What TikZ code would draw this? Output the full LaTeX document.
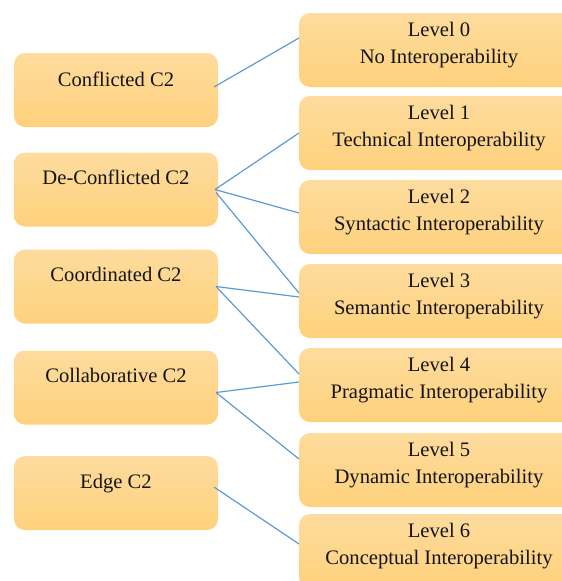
\documentclass[tikz,border=0pt]{standalone}
\usepackage{fontspec}
\setmainfont{Liberation Serif}
\definecolor{boxtop}{RGB}{254,220,158}
\definecolor{boxbot}{RGB}{254,209,124}
\definecolor{linkblue}{RGB}{91,155,213}
\definecolor{txt}{RGB}{20,20,20}
\tikzset{
  cbox/.style={draw=none, rounded corners=11pt, top color=boxtop, bottom color=boxbot,
    minimum width=204pt, minimum height=74pt, inner sep=0pt, outer sep=0pt},
  lbox/.style={draw=none, rounded corners=11pt, top color=boxtop, bottom color=boxbot,
    minimum width=280pt, minimum height=74pt, inner sep=0pt, outer sep=0pt},
  lbl/.style={font=\fontsize{20.6pt}{27pt}\selectfont, text=txt, align=center, anchor=base, inner sep=0pt},
  link/.style={draw=linkblue, line width=1.2pt}
}
\begin{document}
\begin{tikzpicture}[x=1pt,y=-1pt]
\useasboundingbox (0,0) rectangle (562,581);
\clip (0,0) rectangle (562,581);
% left boxes
\node[cbox] (c1) at (116,90) {};
\node[cbox] (c2) at (116,189.5) {};
\node[cbox] (c3) at (116,286.5) {};
\node[cbox] (c4) at (116,387.5) {};
\node[cbox] (c5) at (116,493) {};
\node[lbl] (t1) at ([yshift=-33pt]c1.north) {Conflicted C2};
\node[lbl] (t2) at ([yshift=-32pt]c2.north) {De-Conflicted C2};
\node[lbl] (t3) at ([yshift=-32pt]c3.north) {Coordinated C2};
\node[lbl] (t4) at ([yshift=-32pt]c4.north) {Collaborative C2};
\node[lbl] (t5) at ([yshift=-32pt]c5.north) {Edge C2};
% right boxes
\node[lbox] (l0) at (439,50) {};
\node[lbox] (l1) at (439,133) {};
\node[lbox] (l2) at (439,217) {};
\node[lbox] (l3) at (439,301) {};
\node[lbox] (l4) at (439,385) {};
\node[lbox] (l5) at (439,470) {};
\node[lbox] (l6) at (439,551) {};
\node[lbl] (s0) at ([yshift=-50pt]l0.north) {Level 0\\No Interoperability};
\node[lbl] (s1) at ([yshift=-50pt]l1.north) {Level 1\\Technical Interoperability};
\node[lbl] (s2) at ([yshift=-50pt]l2.north) {Level 2\\Syntactic Interoperability};
\node[lbl] (s3) at ([yshift=-50pt]l3.north) {Level 3\\Semantic Interoperability};
\node[lbl] (s4) at ([yshift=-50pt]l4.north) {Level 4\\Pragmatic Interoperability};
\node[lbl] (s5) at ([yshift=-50pt]l5.north) {Level 5\\Dynamic Interoperability};
\node[lbl] (s6) at ([yshift=-50pt]l6.north) {Level 6\\Conceptual Interoperability};
% connectors
\draw[link] ([xshift=-4pt,yshift=3pt]c1.east) -- ([yshift=12pt]l0.west);
\draw[link] ([xshift=-3pt]c2.east) -- (l1.west);
\draw[link] ([xshift=-3pt]c2.east) -- ([yshift=4pt]l2.west);
\draw[link] ([xshift=-2pt,yshift=-3pt]c2.east) -- ([yshift=8pt]l3.west);
\draw[link] ([xshift=-2pt]c3.east) -- ([yshift=4pt]l3.west);
\draw[link] ([xshift=-2pt]c3.east) -- ([yshift=11pt]l4.west);
\draw[link] ([xshift=-2pt,yshift=-5pt]c4.east) -- ([yshift=3pt]l4.west);
\draw[link] ([xshift=-2pt,yshift=-5pt]c4.east) -- ([yshift=11pt]l5.west);
\draw[link] ([xshift=-4pt,yshift=6pt]c5.east) -- ([yshift=7pt]l6.west);
\end{tikzpicture}
\end{document}
